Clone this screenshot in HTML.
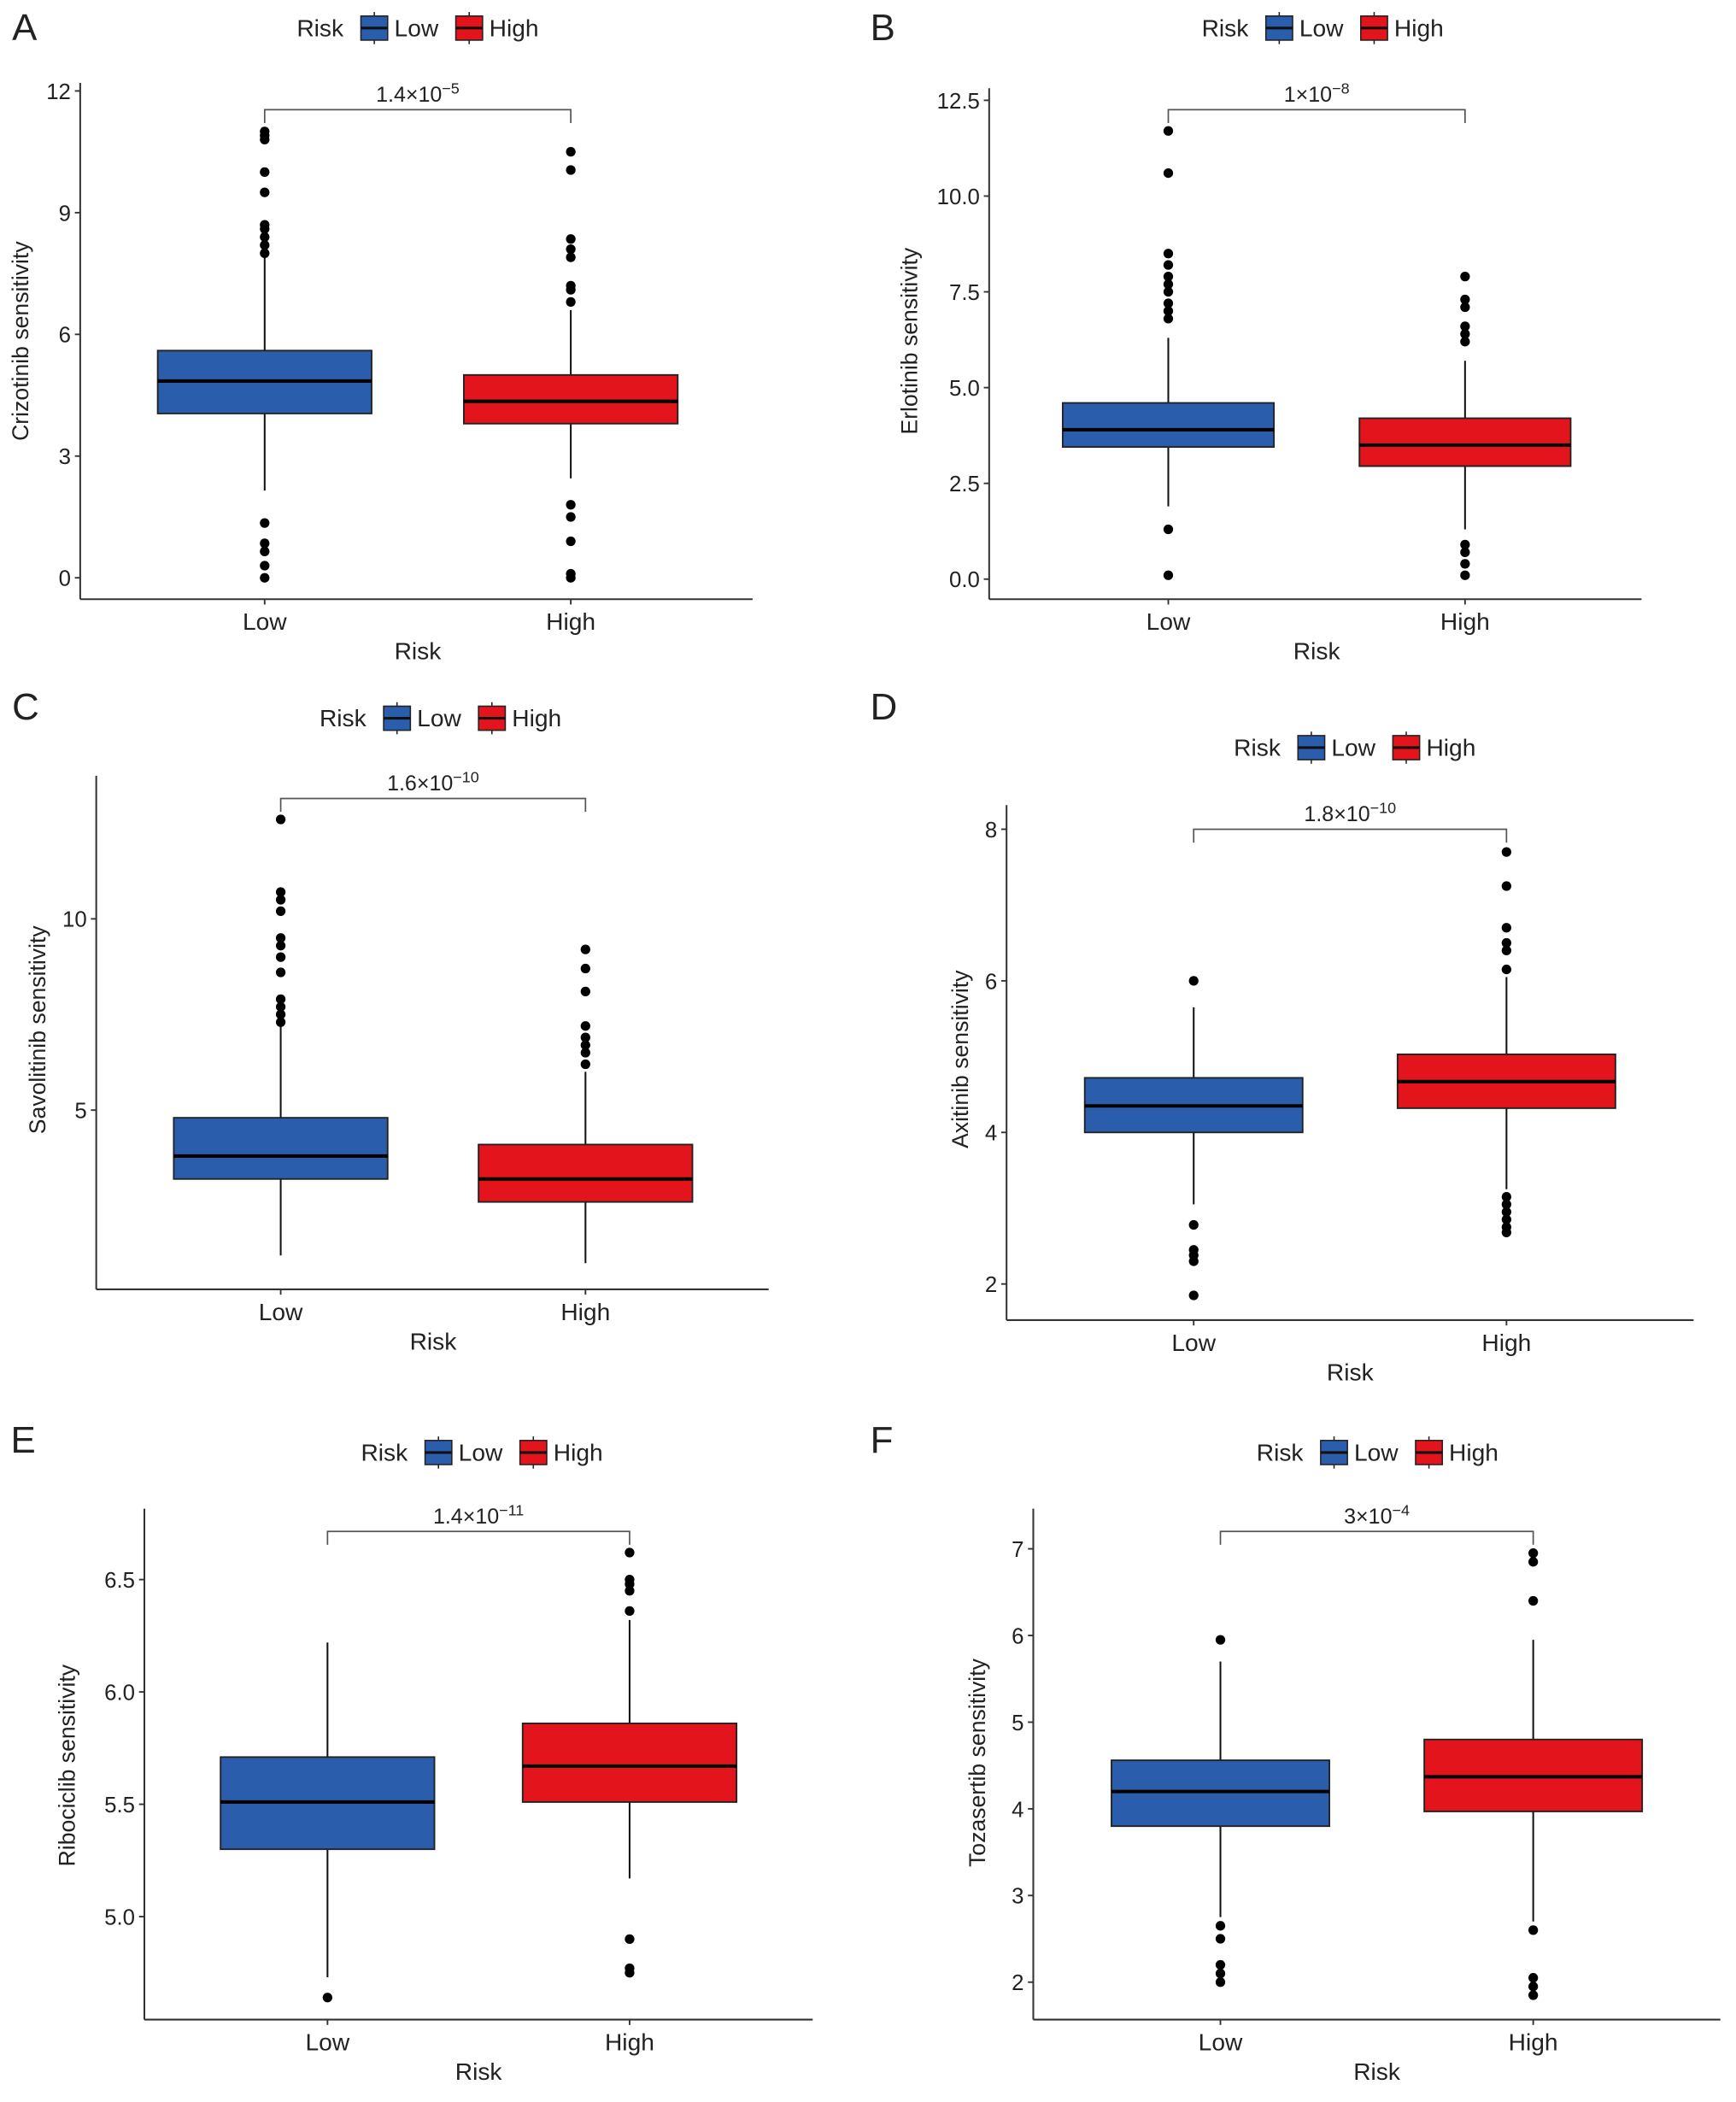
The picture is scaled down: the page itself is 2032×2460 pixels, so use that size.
<!DOCTYPE html>
<html><head><meta charset="utf-8"><style>
html,body{margin:0;padding:0;background:#fff}
svg{display:block}
text{font-family:"Liberation Sans",Arial,sans-serif;fill:#222}
</style></head><body>
<svg id="fig" width="2032" height="2460" viewBox="0 0 1298.7 1571.6" preserveAspectRatio="none" xmlns="http://www.w3.org/2000/svg"></svg>
<script>
const groups = ["Low","High"];
// Panel A
const aTicks = [0,3,6,9,12];
const aLowStats = [2.15,4.05,4.85,5.6,7.9];
const aHighStats = [2.45,3.8,4.35,5.0,6.6];
const aLowOut = [8,8.2,8.4,8.6,8.7,9.5,10,10.8,10.9,11,1.35,0.85,0.65,0.3,0];
const aHighOut = [6.8,7.1,7.2,7.9,8.1,8.35,10.05,10.5,1.8,1.5,0.9,0.1,0];
// Panel B
const bTicks = [0,2.5,5,7.5,10,12.5];
const bTickLabels = ["0.0","2.5","5.0","7.5","10.0","12.5"];
const bLowStats = [1.9,3.45,3.9,4.6,6.3];
const bHighStats = [1.3,2.95,3.5,4.2,5.7];
const bLowOut = [6.8,7.0,7.2,7.5,7.7,7.9,8.2,8.5,10.6,11.7,1.3,0.1];
const bHighOut = [6.2,6.4,6.6,7.1,7.3,7.9,0.9,0.7,0.4,0.1];
// Panel C
const cTicks = [5,10];
const cLowStats = [1.2,3.2,3.8,4.8,7.2];
const cHighStats = [1.0,2.6,3.2,4.1,6.0];
const cLowOut = [7.3,7.5,7.7,7.9,8.6,9.0,9.3,9.5,10.2,10.5,10.7,12.6];
const cHighOut = [6.2,6.5,6.7,6.9,7.2,8.1,8.7,9.2];
// Panel D
const dTicks = [2,4,6,8];
const dLowStats = [3.05,4.0,4.35,4.72,5.65];
const dHighStats = [3.25,4.32,4.67,5.03,6.05];
const dLowOut = [6.0,2.78,2.45,2.38,2.3,1.85];
const dHighOut = [6.15,6.4,6.5,6.7,7.25,7.7,3.15,3.05,2.95,2.85,2.75,2.68];
// Panel E
const eTicks = [5.0,5.5,6.0,6.5];
const eTickLabels = ["5.0","5.5","6.0","6.5"];
const eLowStats = [4.73,5.3,5.51,5.71,6.22];
const eHighStats = [5.17,5.51,5.67,5.86,6.32];
const eLowOut = [4.64];
const eHighOut = [6.36,6.45,6.48,6.5,6.62,4.9,4.77,4.75];
// Panel F
const fTicks = [2,3,4,5,6,7];
const fLowStats = [2.75,3.8,4.2,4.56,5.7];
const fHighStats = [2.7,3.97,4.37,4.8,5.95];
const fLowOut = [5.95,2.65,2.5,2.2,2.1,2.0];
const fHighOut = [6.4,6.85,6.95,2.6,2.05,1.95,1.85];

const NS="http://www.w3.org/2000/svg";
const svg=document.getElementById('fig');
function mk(tag,attrs,parent,txt){const e=document.createElementNS(NS,tag);for(const k in attrs)e.setAttribute(k,attrs[k]);if(txt!==undefined)e.textContent=txt;(parent||svg).appendChild(e);return e;}

const COLORS={Low:"#2a5ead",High:"#e3141c"};

function panel(p){
  const g=mk('g',{});
  
  
  const y=v=>p.y0px+(v-p.y0v)*(p.y1px-p.y0px)/(p.y1v-p.y0v);
  const lt=mk('text',{x:p.lx,y:p.ly,'font-size':28},g,p.letter);
  
  
  const lg=mk('g',{},g);
  
  
  mk('text',{x:p.legX,y:p.legY+6,'font-size':18},lg,'Risk');
  [['Low',p.legX+48],['High',p.legX+119]].forEach(([k,x])=>{
    const e=mk('g',{},lg);
    
    
    mk('line',{x1:x+10,x2:x+10,y1:p.legY-12,y2:p.legY+12,stroke:'#222','stroke-width':1},e);
    mk('rect',{x:x,y:p.legY-9,width:20,height:18,fill:COLORS[k],stroke:'#222','stroke-width':1},e);
    mk('line',{x1:x,x2:x+20,y1:p.legY,y2:p.legY,stroke:'#111','stroke-width':2},e);
    mk('text',{x:x+25,y:p.legY+6,'font-size':18},e,k);
  });
  const ax=mk('g',{},g);
  
  
  mk('line',{x1:p.ax,x2:p.ax,y1:p.top,y2:p.base,stroke:'#333','stroke-width':1.3},ax);
  mk('line',{x1:p.ax,x2:p.xend,y1:p.base,y2:p.base,stroke:'#333','stroke-width':1.3},ax);
  p.ticks.forEach((t,i)=>{
    const yy=y(t);
    mk('line',{x1:p.ax-4,x2:p.ax,y1:yy,y2:yy,stroke:'#333','stroke-width':1.2},ax);
    const tx=mk('text',{x:p.ax-7,y:yy+6,'font-size':16.5,'text-anchor':'end',fill:'#333'},ax,p.labels?p.labels[i]:String(t));
    
    
  });
  const yt=mk('text',{x:p.ytx,y:p.yty,'font-size':17,'text-anchor':'middle',transform:`rotate(-90 ${p.ytx} ${p.yty})`},g,p.ytitle);
  
  
  const xt=mk('text',{x:(p.xs[0]+p.xs[1])/2+(p.xtOff||0),y:p.base+45,'font-size':18,'text-anchor':'middle'},g,'Risk');
  
  
  groups.forEach((k,i)=>{
    const cx=p.xs[i];
    mk('line',{x1:cx,x2:cx,y1:p.base,y2:p.base+4,stroke:'#333','stroke-width':1.2},ax);
    const l=mk('text',{x:cx,y:p.base+23,'font-size':18,'text-anchor':'middle'},ax,k);
    
    
    const s=p.stats[i], hw=p.bw/2;
    const bx=mk('g',{},g);
    
    
    mk('line',{x1:cx,x2:cx,y1:y(s[0]),y2:y(s[4]),stroke:'#111','stroke-width':1.3},bx);
    mk('rect',{x:cx-hw,y:y(s[3]),width:p.bw,height:y(s[1])-y(s[3]),fill:COLORS[k],stroke:'#222','stroke-width':1.2},bx);
    mk('line',{x1:cx-hw,x2:cx+hw,y1:y(s[2]),y2:y(s[2]),stroke:'#000','stroke-width':2.6},bx);
    p.outs[i].forEach(v=>{
      const c=mk('circle',{cx:cx,cy:y(v),r:3.6,fill:'#000'},bx);
      
      
    });
  });
  const br=mk('g',{},g);
  
  
  mk('path',{d:`M${p.xs[0]} ${p.brY+10}V${p.brY}H${p.xs[1]}V${p.brY+10}`,fill:'none',stroke:'#555','stroke-width':1.1},br);
  const pt=mk('text',{x:(p.xs[0]+p.xs[1])/2,y:p.brY-6,'font-size':16,'text-anchor':'middle'},br);
  pt.textContent=p.pval[0]+'×10';
  mk('tspan',{dy:-6,'font-size':11.5},pt,p.pval[1]);
}

panel({letter:'A',lx:9,ly:30,legX:222,legY:21,ax:60,top:62,base:448,xend:563,y0v:0,y0px:432,y1v:12,y1px:68,ticks:aTicks,xs:[198,427],bw:160,stats:[aLowStats,aHighStats],outs:[aLowOut,aHighOut],brY:82,pval:['1.4','−5'],ytitle:'Crizotinib sensitivity',ytx:21,yty:255});
panel({letter:'B',lx:651,ly:30,legX:899,legY:21,ax:740,top:66,base:448,xend:1228,y0v:0,y0px:433,y1v:12.5,y1px:75,ticks:bTicks,labels:bTickLabels,xs:[874,1096],bw:158,stats:[bLowStats,bHighStats],outs:[bLowOut,bHighOut],brY:82,pval:['1','−8'],ytitle:'Erlotinib sensitivity',ytx:686,yty:255});
panel({letter:'C',lx:9,ly:538,legX:239,legY:537,ax:72,top:580,base:964,xend:575,y0v:5,y0px:830,y1v:10,y1px:687,ticks:cTicks,xs:[210,438],bw:160,stats:[cLowStats,cHighStats],outs:[cLowOut,cHighOut],brY:597,pval:['1.6','−10'],ytitle:'Savolitinib sensitivity',ytx:34,yty:770});
panel({letter:'D',lx:651,ly:538,legX:923,legY:559,ax:753,top:602,base:987,xend:1267,y0v:2,y0px:960,y1v:8,y1px:620,ticks:dTicks,xs:[893,1127],bw:163,stats:[dLowStats,dHighStats],outs:[dLowOut,dHighOut],brY:620,pval:['1.8','−10'],ytitle:'Axitinib sensitivity',ytx:724,yty:792});
panel({letter:'E',lx:8,ly:1086,legX:270,legY:1086,ax:108,top:1128,base:1510,xend:608,y0v:5.0,y0px:1433,y1v:6.5,y1px:1181,ticks:eTicks,labels:eTickLabels,xs:[245,471],bw:160,stats:[eLowStats,eHighStats],outs:[eLowOut,eHighOut],brY:1145,pval:['1.4','−11'],ytitle:'Ribociclib sensitivity',ytx:56,yty:1320});
panel({letter:'F',lx:651,ly:1086,legX:940,legY:1086,ax:773,top:1128,base:1510,xend:1287,y0v:2,y0px:1482,y1v:7,y1px:1158,ticks:fTicks,xs:[913,1147],bw:163,stats:[fLowStats,fHighStats],outs:[fLowOut,fHighOut],brY:1145,pval:['3','−4'],ytitle:'Tozasertib sensitivity',ytx:737,yty:1318});
</script>
</body></html>
